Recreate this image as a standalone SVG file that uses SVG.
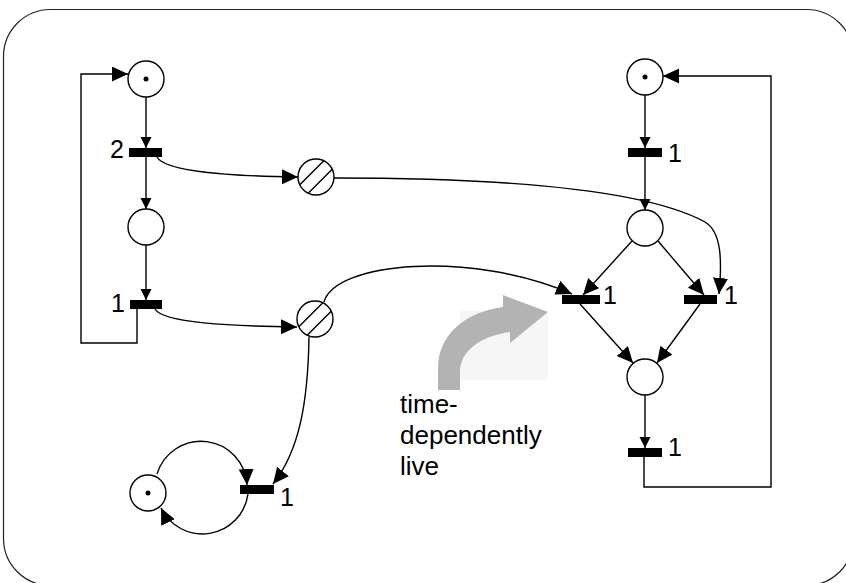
<svg xmlns="http://www.w3.org/2000/svg" width="846" height="583" viewBox="0 0 846 583">
<style>
.pl{fill:#fff;stroke:#000;stroke-width:1.4}
.tk{fill:#000}
.tr{fill:#000}
.hat{stroke:#000;stroke-width:1.4}
.c{fill:none;stroke:#000;stroke-width:1.4}
.lb{font-family:"Liberation Sans",Arial,sans-serif;font-size:25px;fill:#000}
.tx{font-family:"Liberation Sans",Arial,sans-serif;font-size:26px;fill:#000}
</style>
<defs>
<marker id="s" markerUnits="userSpaceOnUse" markerWidth="12" markerHeight="12" refX="11" refY="5.5" orient="auto"><path d="M0,0 L11,5.5 L0,11 z" fill="#000"/></marker>
<marker id="m" markerUnits="userSpaceOnUse" markerWidth="18" markerHeight="18" refX="16" refY="7.5" orient="auto"><path d="M0,0 L16,7.5 L0,15 z" fill="#000"/></marker>
</defs>
<rect x="3.5" y="9.5" width="850" height="576" rx="47" ry="47" fill="#fff" stroke="#222" stroke-width="1.2"/>
<g id="hint">
<rect x="460" y="311" width="88" height="69" fill="#f6f6f6"/>
<path d="M438,390 L438,368 C438,335 465,312 503,307 L503,295 L548,312 L510,343 L510,332 C482,336 460,350 460,372 L460,390 Z" fill="#b3b3b3"/>
<text class="tx" x="400" y="413">time-</text>
<text class="tx" x="400" y="444">dependently</text>
<text class="tx" x="400" y="475">live</text>
</g>
<g id="connectors">
<line class="c" x1="146" y1="97" x2="146" y2="148" marker-end="url(#s)"/>
<line class="c" x1="146" y1="157" x2="146" y2="209" marker-end="url(#s)"/>
<line class="c" x1="146" y1="245" x2="146" y2="300" marker-end="url(#s)"/>
<polyline class="c" points="137,309 137,343 81,343 81,74 128,74" marker-end="url(#m)"/>
<path class="c" d="M157,157 C165,172 230,176 298,177" marker-end="url(#m)"/>
<path class="c" d="M155,309 C163,323 230,326 297,327" marker-end="url(#m)"/>
<path class="c" d="M334,178 C520,178 650,192 705,222 C722,232 722,262 719,294" marker-end="url(#m)"/>
<path class="c" d="M324,302 C335,262 470,250 572,294" marker-end="url(#m)"/>
<path class="c" d="M309,337 C308,400 300,450 273,484" marker-end="url(#m)"/>
<path class="c" d="M157,474 A46,46 0 0 1 247,485" marker-end="url(#m)"/>
<path class="c" d="M248,494 A46,46 0 0 1 161,508" marker-end="url(#m)"/>
<line class="c" x1="645" y1="95" x2="645" y2="148" marker-end="url(#s)"/>
<line class="c" x1="645" y1="157" x2="645" y2="210" marker-end="url(#s)"/>
<line class="c" x1="632" y1="241" x2="583" y2="295" marker-end="url(#m)"/>
<line class="c" x1="658" y1="241" x2="704" y2="295" marker-end="url(#m)"/>
<line class="c" x1="580" y1="304" x2="633" y2="363" marker-end="url(#m)"/>
<line class="c" x1="700" y1="304" x2="657" y2="363" marker-end="url(#m)"/>
<line class="c" x1="645" y1="395" x2="645" y2="448" marker-end="url(#s)"/>
<polyline class="c" points="644,457 644,487 771,487 771,76 663,76" marker-end="url(#m)"/>
</g>
<g id="P1"><circle class="pl" cx="146" cy="79" r="18"/><circle class="tk" cx="146" cy="79" r="2.5"/></g>
<g id="P2"><circle class="pl" cx="146" cy="227" r="18"/></g>
<g id="H1"><circle class="pl" cx="316" cy="177" r="18"/><line class="hat" x1="299.8" y1="184.8" x2="323.8" y2="160.8"/><line class="hat" x1="308.2" y1="193.2" x2="332.2" y2="169.2"/></g>
<g id="H2"><circle class="pl" cx="315" cy="319" r="18"/><line class="hat" x1="298.8" y1="326.8" x2="322.8" y2="302.8"/><line class="hat" x1="307.2" y1="335.2" x2="331.2" y2="311.2"/></g>
<g id="P3"><circle class="pl" cx="645" cy="77" r="18"/><circle class="tk" cx="645" cy="77" r="2.5"/></g>
<g id="P4"><circle class="pl" cx="645" cy="228" r="18"/></g>
<g id="P5"><circle class="pl" cx="645" cy="377" r="18"/></g>
<g id="P6"><circle class="pl" cx="148" cy="493" r="18"/><circle class="tk" cx="148" cy="493" r="2.5"/></g>
<g id="T1"><rect class="tr" x="129" y="148" width="33" height="9"/><text class="lb" x="124" y="158" text-anchor="end">2</text></g>
<g id="T2"><rect class="tr" x="130" y="300" width="32" height="9"/><text class="lb" x="125" y="312" text-anchor="end">1</text></g>
<g id="T3"><rect class="tr" x="628" y="148" width="34" height="9"/><text class="lb" x="668" y="162">1</text></g>
<g id="T4"><rect class="tr" x="562" y="295" width="38" height="9"/><text class="lb" x="603" y="304">1</text></g>
<g id="T5"><rect class="tr" x="684" y="295" width="33" height="9"/><text class="lb" x="724" y="304">1</text></g>
<g id="T6"><rect class="tr" x="628" y="448" width="34" height="9"/><text class="lb" x="668" y="456">1</text></g>
<g id="T7"><rect class="tr" x="240" y="485" width="34" height="9"/><text class="lb" x="280" y="506">1</text></g>
</svg>
